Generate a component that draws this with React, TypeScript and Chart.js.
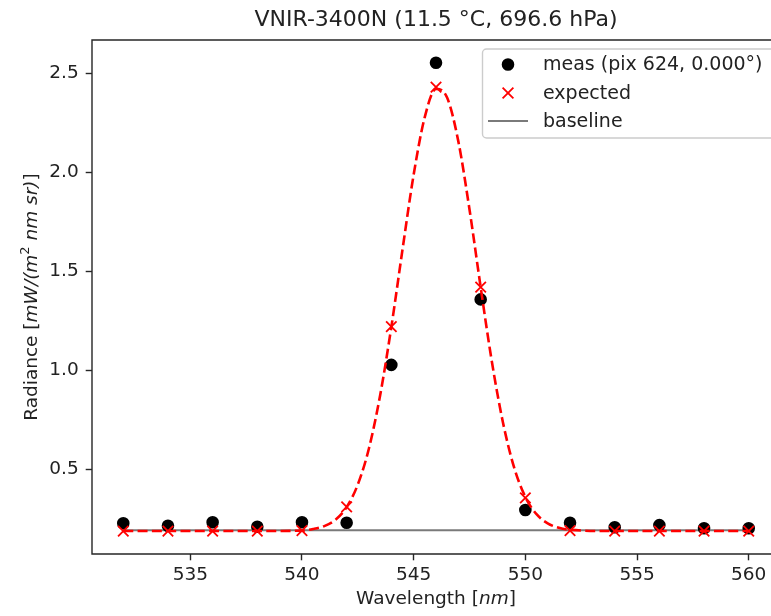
import React, { useEffect, useRef } from 'react';
import { Chart, registerables } from 'chart.js';

Chart.register(...registerables);

// ---- data ----
const wavelengths = [532, 534, 536, 538, 540, 542, 544, 546, 548, 550, 552, 554, 556, 558, 560];
const measured = [0.227, 0.215, 0.232, 0.21, 0.232, 0.23, 1.027, 2.553, 1.358, 0.294, 0.23, 0.207, 0.218, 0.202, 0.202];
const expected = [0.188, 0.188, 0.188, 0.188, 0.19, 0.31, 1.22, 2.43, 1.42, 0.355, 0.19, 0.188, 0.188, 0.188, 0.188];

const fitX = [532, 534, 536, 538, 540, 540.5, 541, 541.5, 542, 542.5, 543, 543.5, 544, 544.5, 545, 545.5, 546, 546.5, 547, 547.5, 548, 548.5, 549, 549.5, 550, 550.5, 551, 551.5, 552, 554, 556, 558, 560];
const fitY = [0.188, 0.188, 0.188, 0.188, 0.19, 0.198, 0.213, 0.245, 0.309, 0.423, 0.606, 0.874, 1.218, 1.609, 1.988, 2.28, 2.421, 2.376, 2.156, 1.812, 1.419, 1.044, 0.735, 0.508, 0.36, 0.273, 0.227, 0.204, 0.194, 0.188, 0.188, 0.188, 0.188];

const baselineX = [532, 560];
const baselineY = [0.192, 0.192];

const xTicks = [535, 540, 545, 550, 555, 560];
const yTicks = [0.5, 1.0, 1.5, 2.0, 2.5];

const titleText = 'VNIR-3400N (11.5 °C, 696.6 hPa)';
const legendLabels = ['meas (pix 624, 0.000°)', 'expected', 'baseline'];

// ---- styling ----
const FONT = '"DejaVu Sans"';
const TEXT = '#222';
const SPINE = '#262626';
const FS = 18.5;

type Seg = { t: string; it?: boolean; sup?: boolean };

function drawRich(c: CanvasRenderingContext2D, segs: Seg[], fs: number, x: number, y: number, rot: number) {
  const fontOf = (s: Seg) => `${s.it ? 'italic ' : ''}${s.sup ? fs * 0.7 : fs}px ${FONT}`;
  let w = 0;
  segs.forEach((s) => {
    c.font = fontOf(s);
    w += c.measureText(s.t).width;
  });
  c.save();
  c.translate(x, y);
  if (rot) c.rotate(rot);
  c.fillStyle = TEXT;
  c.textAlign = 'left';
  c.textBaseline = 'alphabetic';
  let cx = -w / 2;
  segs.forEach((s) => {
    c.font = fontOf(s);
    c.fillText(s.t, cx, s.sup ? -fs * 0.42 : 0);
    cx += c.measureText(s.t).width;
  });
  c.restore();
}

const pts = (xs: number[], ys: number[]) => xs.map((x, i) => ({ x, y: ys[i] }));

export default function App() {
  const ref = useRef<HTMLCanvasElement>(null);

  useEffect(() => {
    const canvas = ref.current!;
    const overlay = {
      id: 'overlay',
      afterDatasetsDraw(chart: any) {
        const c: CanvasRenderingContext2D = chart.ctx;
        const a = chart.chartArea;
        c.save();
        // frame (spines): left, top, bottom (right spine lies beyond the visible page)
        c.strokeStyle = SPINE;
        c.lineWidth = 1.4;
        c.beginPath();
        c.moveTo(a.right + 5, a.top);
        c.lineTo(a.left, a.top);
        c.lineTo(a.left, a.bottom);
        c.lineTo(a.right + 5, a.bottom);
        c.stroke();

        // legend
        const bx = 482.5, by = 49, bw = 296, bh = 89;
        c.beginPath();
        (c as any).roundRect(bx, by, bw, bh, 4);
        c.fillStyle = 'rgba(255,255,255,0.8)';
        c.fill();
        c.strokeStyle = '#cccccc';
        c.lineWidth = 1.4;
        c.stroke();

        const hx = 508;
        const rows = [64.5, 93, 121];
        // meas marker
        c.beginPath();
        c.arc(hx, rows[0], 5.4, 0, Math.PI * 2);
        c.fillStyle = '#000';
        c.fill();
        c.lineWidth = 1.8;
        c.strokeStyle = '#000';
        c.stroke();
        // expected marker
        c.beginPath();
        c.moveTo(hx - 5.4, rows[1] - 5.4);
        c.lineTo(hx + 5.4, rows[1] + 5.4);
        c.moveTo(hx - 5.4, rows[1] + 5.4);
        c.lineTo(hx + 5.4, rows[1] - 5.4);
        c.strokeStyle = 'red';
        c.lineWidth = 1.8;
        c.stroke();
        // baseline handle
        c.beginPath();
        c.moveTo(488, rows[2]);
        c.lineTo(528, rows[2]);
        c.strokeStyle = '#7a7a7a';
        c.lineWidth = 2.2;
        c.stroke();

        c.fillStyle = TEXT;
        c.font = `19px ${FONT}`;
        c.textAlign = 'left';
        c.textBaseline = 'middle';
        legendLabels.forEach((l, i) => c.fillText(l, 543, rows[i] + 1));
        c.restore();
      },
      afterDraw(chart: any) {
        const c: CanvasRenderingContext2D = chart.ctx;
        const a = chart.chartArea;
        const cx = (a.left + a.right) / 2;
        c.save();
        c.fillStyle = TEXT;
        c.font = `22px ${FONT}`;
        c.textAlign = 'center';
        c.textBaseline = 'alphabetic';
        c.fillText(titleText, cx, 26);
        c.restore();
        drawRich(c, [{ t: 'Wavelength [' }, { t: 'nm', it: true }, { t: ']' }], FS, cx, 604, 0);
        drawRich(
          c,
          [
            { t: 'Radiance [' },
            { t: 'mW/(m', it: true },
            { t: '2', sup: true },
            { t: ' nm sr)', it: true },
            { t: ']' },
          ],
          FS,
          37,
          (a.top + a.bottom) / 2,
          -Math.PI / 2
        );
      },
    };

    const chart = new Chart(canvas, {
      type: 'scatter',
      data: {
        datasets: [
          {
            label: 'expected',
            data: pts(wavelengths, expected),
            showLine: false,
            pointStyle: 'crossRot',
            pointRadius: 7.4,
            pointBorderWidth: 1.8,
            pointBorderColor: 'red',
            pointBackgroundColor: 'red',
          },
          {
            label: 'fit',
            data: pts(fitX, fitY),
            showLine: true,
            borderColor: 'red',
            borderWidth: 2.6,
            borderDash: [10, 4.3],
            pointRadius: 0,
            cubicInterpolationMode: 'monotone',
            fill: false,
          },
          {
            label: 'meas',
            data: pts(wavelengths, measured),
            showLine: false,
            pointStyle: 'circle',
            pointRadius: 5.4,
            pointBorderWidth: 1.8,
            pointBackgroundColor: '#000',
            pointBorderColor: '#000',
          },
          {
            label: 'baseline',
            data: pts(baselineX, baselineY),
            showLine: true,
            borderColor: '#7a7a7a',
            borderWidth: 2.2,
            pointRadius: 0,
            fill: false,
          },
        ] as any,
      },
      options: {
        animation: false,
        responsive: false,
        maintainAspectRatio: false,
        devicePixelRatio: 1,
        layout: { padding: { left: 0, top: 40, right: 20, bottom: 0 } },
        plugins: { legend: { display: false }, tooltip: { enabled: false }, title: { display: false } },
        scales: {
          x: {
            type: 'linear',
            min: 530.6,
            max: 561.4,
            afterFit: (s: any) => {
              s.height = 62;
              s.paddingLeft = 0;
              s.paddingRight = 0;
            },
            afterBuildTicks: (s: any) => {
              s.ticks = xTicks.map((v) => ({ value: v }));
            },
            border: { display: false },
            grid: {
              display: true,
              drawOnChartArea: false,
              drawTicks: true,
              tickLength: 6.3,
              tickColor: SPINE,
              tickWidth: 1.4,
            } as any,
            ticks: {
              color: TEXT,
              font: { family: 'DejaVu Sans', size: FS },
              padding: 4,
              maxRotation: 0,
              autoSkip: false,
              callback: (v: any) => String(v),
            },
          },
          y: {
            type: 'linear',
            min: 0.072,
            max: 2.668,
            afterFit: (s: any) => {
              s.width = 92;
              s.paddingTop = 0;
              s.paddingBottom = 0;
            },
            afterBuildTicks: (s: any) => {
              s.ticks = yTicks.map((v) => ({ value: v }));
            },
            border: { display: false },
            grid: {
              display: true,
              drawOnChartArea: false,
              drawTicks: true,
              tickLength: 6.3,
              tickColor: SPINE,
              tickWidth: 1.4,
            } as any,
            ticks: {
              color: TEXT,
              font: { family: 'DejaVu Sans', size: FS },
              padding: 7,
              autoSkip: false,
              callback: (v: any) => Number(v).toFixed(1),
            },
          },
        },
      },
      plugins: [overlay],
    } as any);

    return () => chart.destroy();
  }, []);

  return (
    <div
      style={{
        position: 'fixed',
        left: 0,
        top: 0,
        width: 771,
        height: 616,
        overflow: 'hidden',
        background: '#fff',
      }}
    >
      <canvas ref={ref} width={800} height={616} style={{ display: 'block', width: 800, height: 616 }} />
    </div>
  );
}
